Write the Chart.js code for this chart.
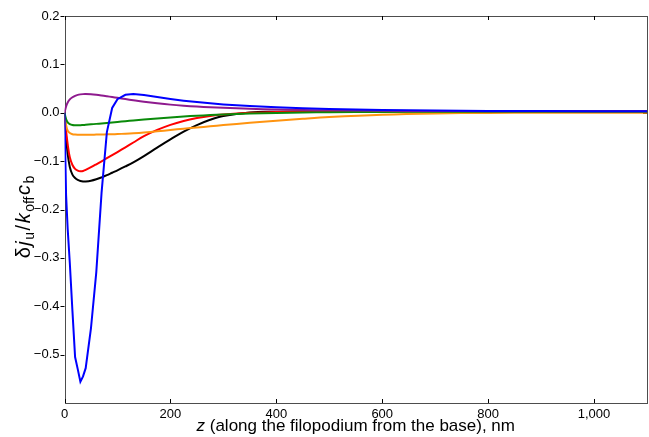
<!DOCTYPE html>
<html>
<head>
<meta charset="utf-8">
<script src="https://cdn.jsdelivr.net/npm/chart.js@4.4.1/dist/chart.umd.min.js"></script>
<style>
  html, body { margin: 0; padding: 0; background: #fff; }
  #wrap { width: 649px; height: 437px; }
</style>
</head>
<body>
<div id="wrap"><canvas id="grafico"></canvas></div>
<script>
// posições ao longo do filopódio (nm)
const zNm = [0, 3, 6, 10, 15, 20, 25, 30, 35, 40, 50, 60, 70, 80, 90, 100, 115, 130, 150, 175,
             200, 225, 250, 275, 300, 350, 400, 450, 500, 600, 700, 800, 900, 1000, 1100];

// curvas
const blueVals   = [0, -0.17, -0.24, -0.31, -0.41, -0.505, -0.53, -0.556, -0.545, -0.528, -0.445, -0.33, -0.165, -0.04, 0.010, 0.028, 0.037, 0.0385, 0.0365, 0.0325,
                    0.0285, 0.025, 0.022, 0.0195, 0.0173, 0.0138, 0.0112, 0.0092, 0.0077, 0.0057, 0.0045, 0.0038, 0.0034, 0.0032, 0.003];
const purpleVals = [0, 0.013, 0.021, 0.0275, 0.032, 0.035, 0.037, 0.038, 0.0385, 0.0386, 0.0382, 0.0372, 0.0358, 0.0342, 0.0325, 0.0308, 0.0282, 0.0258, 0.0228, 0.0196,
                    0.0168, 0.0146, 0.0128, 0.0113, 0.0101, 0.0082, 0.0068, 0.0058, 0.005, 0.0041, 0.0036, 0.0033, 0.0031, 0.003, 0.003];
const greenVals  = [0, -0.013, -0.020, -0.0235, -0.0255, -0.026, -0.026, -0.0257, -0.0253, -0.0249, -0.0240, -0.0230, -0.0220, -0.0210, -0.0200, -0.0190, -0.0175, -0.0160, -0.0142, -0.0120,
                    -0.0097, -0.0078, -0.0062, -0.0048, -0.0036, -0.0017, -0.0004, 0.0006, 0.0012, 0.0018, 0.002, 0.002, 0.002, 0.002, 0.002];
const orangeVals = [0, -0.025, -0.037, -0.042, -0.0445, -0.0452, -0.0455, -0.0456, -0.0456, -0.0455, -0.0455, -0.0452, -0.0450, -0.0447, -0.0444, -0.0440, -0.0433, -0.0424, -0.0408, -0.0383,
                    -0.0357, -0.0330, -0.0305, -0.0280, -0.0255, -0.0208, -0.0165, -0.0125, -0.009, -0.0042, -0.0015, -0.0003, 0, 0, 0];
const redVals    = [0, -0.037, -0.065, -0.092, -0.108, -0.116, -0.1195, -0.121, -0.1205, -0.118, -0.1125, -0.1065, -0.1003, -0.094, -0.0877, -0.0813, -0.0715, -0.0615, -0.0485, -0.0355,
                    -0.025, -0.017, -0.011, -0.0065, -0.0035, 0, 0.0015, 0.0025, 0.003, 0.003, 0.003, 0.003, 0.003, 0.003, 0.003];
const blackVals  = [0, -0.05, -0.085, -0.112, -0.128, -0.135, -0.139, -0.141, -0.142, -0.142, -0.1405, -0.1375, -0.1335, -0.129, -0.124, -0.119, -0.111, -0.1025, -0.0895, -0.072,
                    -0.055, -0.039, -0.0255, -0.0145, -0.0065, 0.0005, 0.0022, 0.0028, 0.003, 0.003, 0.003, 0.003, 0.003, 0.003, 0.003];

// marcas dos eixos
const xTicks = [0, 200, 400, 600, 800, 1000];
const yTicks = [-0.5, -0.4, -0.3, -0.2, -0.1, 0.0, 0.1, 0.2];

const FONT = "'Liberation Sans', Arial, sans-serif";

function pontos(vals) {
    return zNm.map((z, i) => ({ x: z, y: vals[i] }));
}

function serie(vals, cor, reta) {
    return {
        data: pontos(vals),
        borderColor: cor,
        borderWidth: 2,
        pointRadius: 0,
        fill: false,
        tension: reta ? 0 : 0.35
    };
}

// moldura, marcas internas e títulos com índices
const moldura = {
    id: 'moldura',
    beforeDatasetsDraw(chart) {
        const { ctx, chartArea: a, scales: { x, y } } = chart;
        ctx.save();
        ctx.strokeStyle = '#4d4d4d';
        ctx.lineWidth = 1;
        ctx.strokeRect(Math.round(a.left) + 0.5, Math.round(a.top) + 0.5,
                       Math.round(a.right - a.left) - 1, Math.round(a.bottom - a.top));
        ctx.strokeStyle = '#000';
        ctx.beginPath();
        xTicks.forEach(v => {
            const px = Math.round(x.getPixelForValue(v)) + 0.5;
            ctx.moveTo(px, a.bottom); ctx.lineTo(px, a.bottom - 4);
            ctx.moveTo(px, a.top); ctx.lineTo(px, a.top + 4);
        });
        yTicks.forEach(v => {
            const py = Math.round(y.getPixelForValue(v)) + 0.5;
            ctx.moveTo(a.left, py); ctx.lineTo(a.left - 4, py);
        });
        const p0 = Math.round(y.getPixelForValue(0)) + 0.5;
        ctx.moveTo(a.right, p0); ctx.lineTo(a.right - 4, p0);
        ctx.stroke();
        ctx.restore();
    },
    afterDraw(chart) {
        const { ctx, chartArea: a } = chart;
        ctx.save();
        ctx.fillStyle = '#000';
        ctx.textBaseline = 'alphabetic';

        // título do eixo x
        const partesX = [['z', 'italic 17px ' + FONT], [' (along the filopodium from the base), nm', '17px ' + FONT]];
        let total = 0;
        partesX.forEach(p => { ctx.font = p[1]; total += ctx.measureText(p[0]).width; });
        let cx = (a.left + a.right) / 2 - total / 2;
        partesX.forEach(p => { ctx.font = p[1]; ctx.fillText(p[0], cx, 431); cx += ctx.measureText(p[0]).width; });

        // título do eixo y: δj_u / k_off c_b
        const gap = 1.5;
        const partesY = [
            ['\u03B4', '20px ' + FONT, 0],
            ['j', 'italic 20px ' + FONT, 0],
            ['u', '14px ' + FONT, 4],
            ['/', '20px ' + FONT, 0],
            ['k', 'italic 20px ' + FONT, 0],
            ['off', '14px ' + FONT, 4],
            ['c', 'italic 20px ' + FONT, 0],
            ['b', '14px ' + FONT, 4]
        ];
        total = 0;
        partesY.forEach(p => { ctx.font = p[1]; total += ctx.measureText(p[0]).width + gap; });
        total -= gap;
        ctx.translate(30, 217);
        ctx.rotate(-Math.PI / 2);
        cx = -total / 2;
        partesY.forEach(p => { ctx.font = p[1]; ctx.fillText(p[0], cx, p[2]); cx += ctx.measureText(p[0]).width + gap; });
        ctx.restore();
    }
};

const ctx = document.getElementById('grafico').getContext('2d');
new Chart(ctx, {
    type: 'line',
    data: {
        datasets: [
            serie(blueVals, '#0000ff', true),
            serie(purpleVals, '#8e1a8e', false),
            serie(greenVals, '#0a8a0a', false),
            serie(orangeVals, '#ff9410', false),
            serie(redVals, '#ff0000', false),
            serie(blackVals, '#000000', false)
        ]
    },
    options: {
        responsive: true,
        maintainAspectRatio: false,
        animation: false,
        layout: { padding: { top: 16, right: 2, left: 0, bottom: 0 } },
        plugins: {
            legend: { display: false },
            tooltip: { enabled: false }
        },
        scales: {
            x: {
                type: 'linear',
                min: 0,
                max: 1100,
                afterFit: s => { s.height = 34; },
                grid: { display: false, drawTicks: false },
                border: { display: false },
                afterBuildTicks: s => { s.ticks = xTicks.map(v => ({ value: v })); },
                ticks: {
                    padding: 4,
                    color: '#000',
                    font: { family: FONT, size: 13 },
                    maxRotation: 0,
                    callback: v => v.toLocaleString('en-US')
                }
            },
            y: {
                min: -0.6,
                max: 0.2,
                afterFit: s => { s.width = 64.5; },
                grid: { display: false, drawTicks: false },
                border: { display: false },
                afterBuildTicks: s => { s.ticks = yTicks.map(v => ({ value: v })); },
                ticks: {
                    padding: 5,
                    color: '#000',
                    font: { family: FONT, size: 13 },
                    callback: v => (v < 0 ? '\u2212' : '') + Math.abs(v).toFixed(1)
                }
            }
        }
    },
    plugins: [moldura]
});
</script>
</body>
</html>
